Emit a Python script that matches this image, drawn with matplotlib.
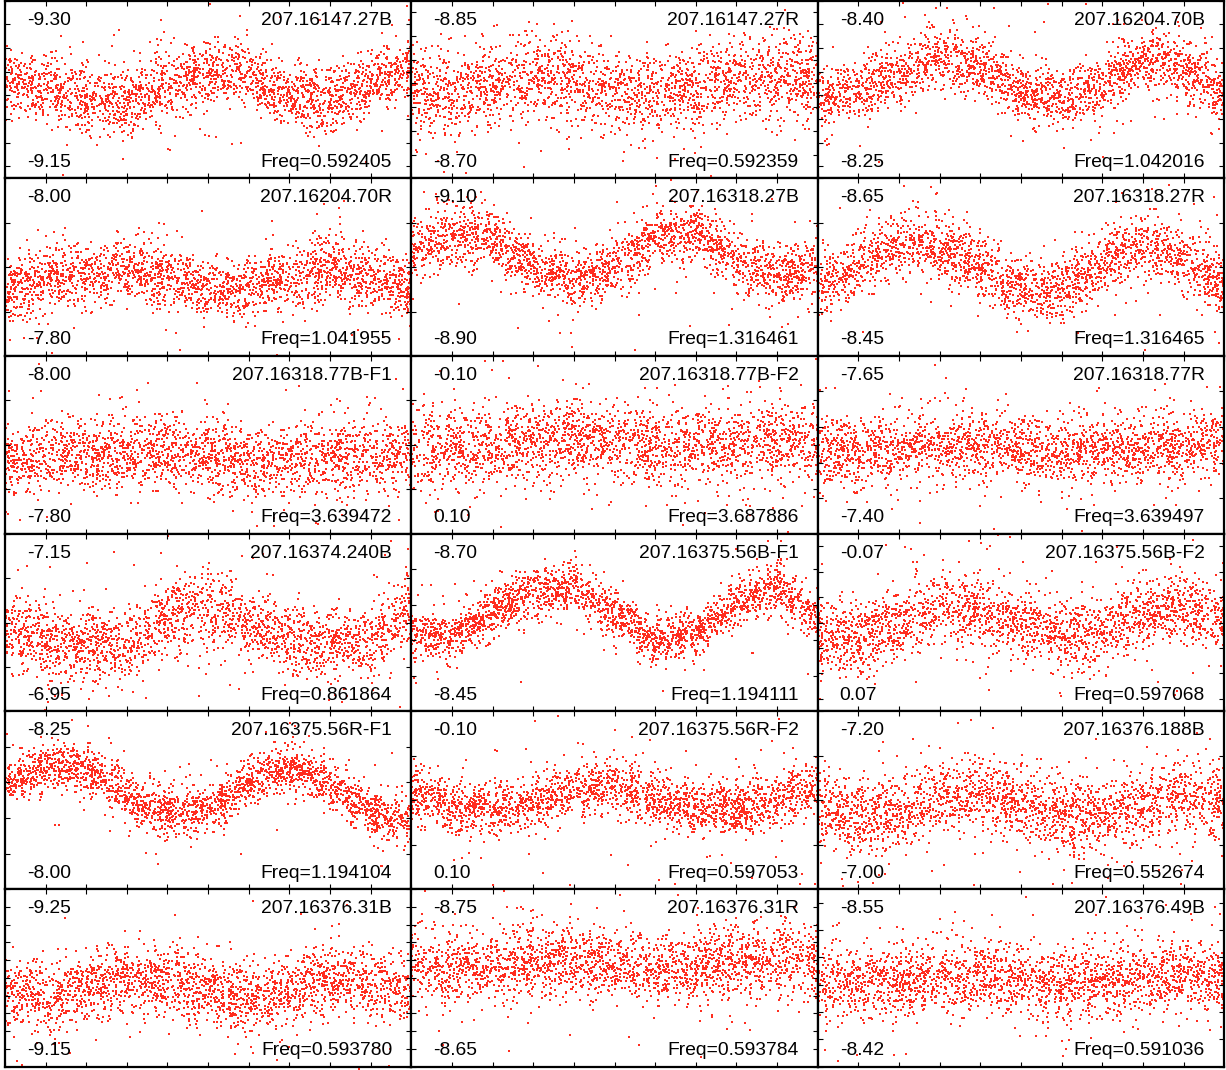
import numpy as np
import matplotlib
matplotlib.use("Agg")
import matplotlib.pyplot as plt
from matplotlib.ticker import MultipleLocator

plt.rcParams['font.family'] = ['Liberation Sans', 'DejaVu Sans']

# названия панелей (по строкам, слева направо)
names = ["207.16147.27B", "207.16147.27R", "207.16204.70B",
         "207.16204.70R", "207.16318.27B", "207.16318.27R",
         "207.16318.77B-F1", "207.16318.77B-F2", "207.16318.77R",
         "207.16374.240B", "207.16375.56B-F1", "207.16375.56B-F2",
         "207.16375.56R-F1", "207.16375.56R-F2", "207.16376.188B",
         "207.16376.31B", "207.16376.31R", "207.16376.49B"]
freqs = ["0.592405", "0.592359", "1.042016",
         "1.041955", "1.316461", "1.316465",
         "3.639472", "3.687886", "3.639497",
         "0.861864", "1.194111", "0.597068",
         "1.194104", "0.597053", "0.552674",
         "0.593780", "0.593784", "0.591036"]
# верхняя и нижняя границы по оси y (звёздные величины)
y_top = ["-9.30", "-8.85", "-8.40", "-8.00", "-9.10", "-8.65",
         "-8.00", "-0.10", "-7.65", "-7.15", "-8.70", "-0.07",
         "-8.25", "-0.10", "-7.20", "-9.25", "-8.75", "-8.55"]
y_bottom = ["-9.15", "-8.70", "-8.25", "-7.80", "-8.90", "-8.45",
            "-7.80", "0.10", "-7.40", "-6.95", "-8.45", "0.07",
            "-8.00", "0.10", "-7.00", "-9.15", "-8.65", "-8.42"]
y_step = [0.02, 0.02, 0.02, 0.05, 0.05, 0.05,
          0.05, 0.05, 0.05, 0.05, 0.05, 0.02,
          0.05, 0.05, 0.05, 0.01, 0.01, 0.02]

trend_x = np.arange(11)
trend = [
    [-9.235, -9.227, -9.216, -9.213, -9.227, -9.241, -9.235, -9.218, -9.216, -9.230, -9.244],
    [-8.774, -8.770, -8.778, -8.787, -8.783, -8.772, -8.770, -8.776, -8.783, -8.787, -8.783],
    [-8.316, -8.324, -8.338, -8.352, -8.344, -8.324, -8.316, -8.330, -8.349, -8.344, -8.318],
    [-7.873, -7.884, -7.891, -7.899, -7.888, -7.876, -7.876, -7.888, -7.899, -7.888, -7.876],
    [-9.018, -9.036, -9.033, -8.999, -8.984, -8.999, -9.029, -9.040, -9.007, -8.991, -8.999],
    [-8.526, -8.552, -8.575, -8.571, -8.549, -8.523, -8.526, -8.557, -8.575, -8.560, -8.526],
    [-7.882, -7.884, -7.888, -7.890, -7.893, -7.888, -7.882, -7.883, -7.888, -7.891, -7.888],
    [-0.001, 0.003, 0.001, -0.003, -0.006, -0.001, 0.003, 0.001, -0.003, -0.006, -0.003],
    [-7.517, -7.514, -7.518, -7.524, -7.526, -7.521, -7.514, -7.517, -7.521, -7.524, -7.526],
    [-7.046, -7.030, -7.023, -7.026, -7.057, -7.068, -7.052, -7.030, -7.023, -7.030, -7.064],
    [-8.560, -8.555, -8.588, -8.619, -8.627, -8.588, -8.548, -8.560, -8.602, -8.627, -8.581],
    [0.009, 0.014, 0.001, -0.013, -0.009, 0.001, 0.011, 0.006, -0.007, -0.013, -0.002],
    [-8.145, -8.173, -8.169, -8.131, -8.107, -8.112, -8.149, -8.173, -8.145, -8.107, -8.098],
    [-0.008, 0.007, 0.010, 0.003, -0.012, -0.016, -0.001, 0.010, 0.010, -0.001, -0.016],
    [-7.093, -7.079, -7.085, -7.101, -7.104, -7.097, -7.082, -7.082, -7.093, -7.104, -7.101],
    [-9.193, -9.188, -9.193, -9.201, -9.199, -9.192, -9.188, -9.193, -9.201, -9.197, -9.193],
    [-8.708, -8.705, -8.706, -8.710, -8.711, -8.708, -8.705, -8.706, -8.710, -8.711, -8.710],
    [-8.483, -8.481, -8.483, -8.486, -8.486, -8.483, -8.481, -8.483, -8.486, -8.487, -8.484],
]
# разброс точек вокруг среднего хода (звёздные величины)
scatter_sd = [0.0135, 0.0170, 0.0125, 0.0175, 0.0160, 0.0175,
              0.0200, 0.0220, 0.0235, 0.0200, 0.0165, 0.0135,
              0.0165, 0.0150, 0.0215, 0.0095, 0.0100, 0.0130]

N_POINTS = 2200
DOT_COLOR = "#ff2d1f"

if __name__ == "__main__":
    rng = np.random.default_rng(7)
    fig, axes = plt.subplots(6, 3, figsize=(12.26, 10.70), dpi=100)
    fig.subplots_adjust(left=0.004, right=0.9985, bottom=0.003, top=0.9995,
                        wspace=0, hspace=0)

    for i, ax in enumerate(axes.flat):
        x = rng.uniform(0, 10, N_POINTS)
        sd = np.full(N_POINTS, scatter_sd[i])
        sd[rng.random(N_POINTS) < 0.08] *= 2.2
        y = np.interp(x, trend_x, trend[i]) + rng.normal(0, 1, N_POINTS) * sd
        ax.scatter(x, y, s=2.2, marker="s", color=DOT_COLOR, linewidths=0,
                   clip_on=False, zorder=1)

        ax.set_xlim(0, 10)
        ax.set_ylim(float(y_bottom[i]), float(y_top[i]))
        ax.xaxis.set_major_locator(MultipleLocator(1))
        ax.yaxis.set_major_locator(MultipleLocator(y_step[i]))
        ax.tick_params(direction="in", length=3.6, width=0.8,
                       top=True, right=True, labelbottom=False, labelleft=False)
        for sp in ax.spines.values():
            sp.set_linewidth(1.6)
            sp.set_zorder(3)

        fs = 13.9
        ax.text(0.054, 0.89, y_top[i], transform=ax.transAxes,
                ha="left", va="center", fontsize=fs, zorder=4)
        ax.text(0.054, 0.09, y_bottom[i], transform=ax.transAxes,
                ha="left", va="center", fontsize=fs, zorder=4)
        ax.text(0.953, 0.89, names[i], transform=ax.transAxes,
                ha="right", va="center", fontsize=fs, zorder=4)
        ax.text(0.953, 0.09, "Freq=" + freqs[i], transform=ax.transAxes,
                ha="right", va="center", fontsize=fs, zorder=4)

    fig.savefig("out.png", dpi=100)
